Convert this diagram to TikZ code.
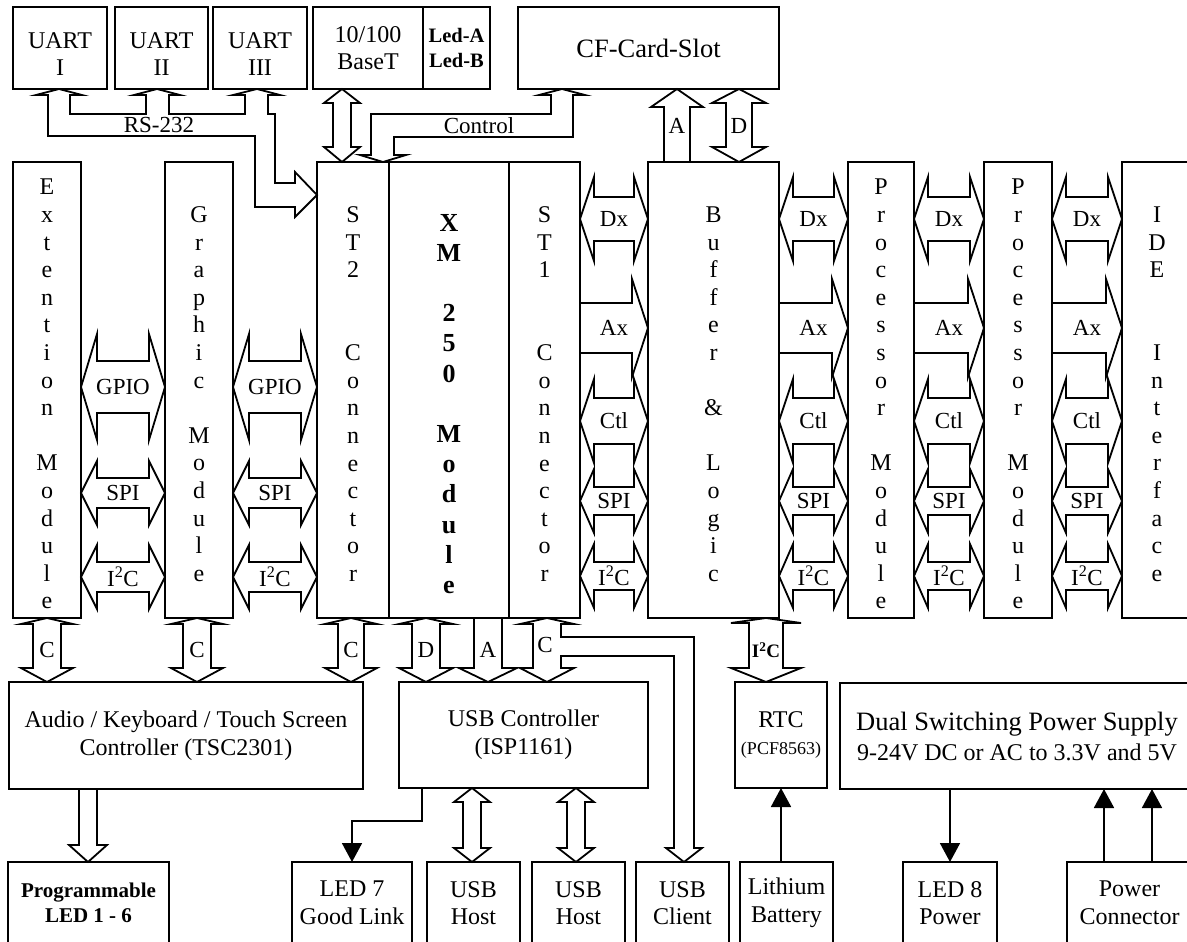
\documentclass[tikz,border=0pt]{standalone}
\usepackage{fontspec}
\setmainfont{Liberation Serif}
\usetikzlibrary{arrows.meta,calc}

%% invisible strut that pushes a node's text down a little
\newcommand{\tstrut}[1]{\rule{0pt}{#1}}

%% block arrows, drawn between named nodes (pixel units, y downwards)
% horizontal double arrow: left node, right node, y, shaft half, head half, head length, label
\newcommand{\hdbl}[7]{%
  \path (#1.east |- 0,#3) coordinate (hl) (#2.west |- 0,#3) coordinate (hr);
  \draw[blk] (hl) -- ++(#6,-#5) -- ++(0,#5-#4) -- ($(hr)+(-#6,-#4)$) -- ++(0,#4-#5) -- (hr)
    -- ++(-#6,#5) -- ++(0,#4-#5) -- ($(hl)+(#6,#4)$) -- ++(0,#5-#4) -- cycle;
  \node[lbl] (lab) at ($(hl)!.5!(hr)$) {#7};}
% horizontal single arrow pointing right
\newcommand{\hright}[7]{%
  \path (#1.east |- 0,#3) coordinate (st) (#2.west |- 0,#3) coordinate (sb);
  \draw[blk] ($(st)+(0,-#4)$) -- ($(sb)+(-#6,-#4)$) -- ++(0,#4-#5) -- (sb) -- ++(-#6,#5) -- ++(0,#4-#5) -- ($(st)+(0,#4)$);
  \node[lbl] (lab) at ($(st)!.5!(sb)$) {#7};}
% vertical double arrow: upper node, lower node, x, shaft half, head half, top head, bottom head, label
\newcommand{\vdbl}[8]{%
  \path (#1.south -| #3,0) coordinate (vt) (#2.north -| #3,0) coordinate (vb);
  \draw[blk] (vt) -- ++(#5,#6) -- ++(#4-#5,0) -- ($(vb)+(#4,-#7)$) -- ++(#5-#4,0) -- (vb)
    -- ++(-#5,-#7) -- ++(#5-#4,0) -- ($(vt)+(-#4,#6)$) -- ++(#4-#5,0) -- cycle;
  \if\relax\detokenize{#8}\relax\else\node[lbl] (lab) at ($(vt)!.5!(vb)$) {#8};\fi}
% vertical single arrows (tail node, tip node, x, shaft half, head half, head length, label)
\newcommand{\sglup}[7]{%
  \path (#1.north -| #3,0) coordinate (st) (#2.south -| #3,0) coordinate (sb);
  \draw[blk] ($(st)+(-#4,0)$) -- ($(sb)+(-#4,#6)$) -- ++(#4-#5,0) -- (sb) -- ++(#5,#6) -- ++(#4-#5,0) -- ($(st)+(#4,0)$);
  \if\relax\detokenize{#7}\relax\else\node[lbl] (lab) at ($(st)!.5!(sb)$) {#7};\fi}
\newcommand{\sgldown}[7]{%
  \path (#1.south -| #3,0) coordinate (st) (#2.north -| #3,0) coordinate (sb);
  \draw[blk] ($(st)+(-#4,0)$) -- ($(sb)+(-#4,-#6)$) -- ++(#4-#5,0) -- (sb) -- ++(#5,-#6) -- ++(#4-#5,0) -- ($(st)+(#4,0)$);
  \if\relax\detokenize{#7}\relax\else\node[lbl] (lab) at ($(st)!.5!(sb)$) {#7};\fi}

\begin{document}
\begin{tikzpicture}[
    x=1pt, y=-1pt,
    >={Triangle[length=19pt,width=20pt]},
    font=\fontsize{24}{27.6}\selectfont,
    box/.style={draw, line width=1.8pt, inner sep=0pt, outer sep=0pt, align=center},
    vbox/.style={box, minimum height=456pt},
    blk/.style={draw, line width=1.8pt, line join=miter},
    con/.style={draw, line width=1.8pt},
    lbl/.style={inner sep=0pt, font=\fontsize{23}{26}\selectfont},
  ]
  \useasboundingbox (0,0) rectangle (1187,942);
  \clip (0,0) rectangle (1187,942);

  %% ===== TOP ROW =====
  \node[box, minimum width=94pt, minimum height=82pt] (uart1) at (60,48) {\tstrut{28pt}UART\\I};
  \node[box, minimum width=93pt, minimum height=82pt] (uart2) at (161.5,48) {\tstrut{28pt}UART\\II};
  \node[box, minimum width=94pt, minimum height=82pt] (uart3) at (260,48) {\tstrut{28pt}UART\\III};
  \node[box, minimum width=110pt, minimum height=82pt] (eth) at (368,48) {10/100\\BaseT};
  \node[box, minimum width=67pt, minimum height=82pt, font=\fontsize{20.5}{25}\selectfont\bfseries] (led) at (456.5,48) {Led-A\\Led-B};
  \node[box, minimum width=261pt, minimum height=82pt, font=\fontsize{26.5}{30}\selectfont] (cf) at (648.5,48) {CF-Card-Slot};

  %% ===== MIDDLE ROW (modules and connectors) =====
  \node[vbox, minimum width=68pt] (ext) at (47,390)
    {\tstrut{24pt}E\\x\\t\\e\\n\\t\\i\\o\\n\\[27.6pt]M\\o\\d\\u\\l\\e};
  \node[vbox, minimum width=68pt] (gra) at (199,390)
    {\tstrut{24pt}G\\r\\a\\p\\h\\i\\c\\[27.6pt]M\\o\\d\\u\\l\\e};
  \node[vbox, minimum width=72pt] (st2) at (353,390)
    {\tstrut{24pt}S\\T\\2\\[55.2pt]C\\o\\n\\n\\e\\c\\t\\o\\r};
  \node[vbox, minimum width=120pt, font=\fontsize{26}{30.2}\selectfont\bfseries] (xm) at (449,390)
    {\tstrut{45pt}X\\M\\[30.2pt]2\\5\\0\\[30.2pt]M\\o\\d\\u\\l\\e};
  \node[vbox, minimum width=71pt] (st1) at (544.5,390)
    {\tstrut{24pt}S\\T\\1\\[55.2pt]C\\o\\n\\n\\e\\c\\t\\o\\r};
  \node[vbox, minimum width=131pt] (buf) at (713.5,390)
    {\tstrut{24pt}B\\u\\f\\f\\e\\r\\[27.6pt]\&\\[27.6pt]L\\o\\g\\i\\c};
  \node[vbox, minimum width=66pt] (proc1) at (881,390)
    {\tstrut{24pt}P\\r\\o\\c\\e\\s\\s\\o\\r\\[27.6pt]M\\o\\d\\u\\l\\e};
  \node[vbox, minimum width=68pt] (proc2) at (1018,390)
    {\tstrut{24pt}P\\r\\o\\c\\e\\s\\s\\o\\r\\[27.6pt]M\\o\\d\\u\\l\\e};
  \node[vbox, minimum width=70pt] (ide) at (1157,390)
    {\tstrut{24pt}I\\D\\E\\[55.2pt]I\\n\\t\\e\\r\\f\\a\\c\\e};

  %% ===== CONTROLLER ROW =====
  \node[box, minimum width=354pt, minimum height=107pt] (audio) at (186,735.5)
    {Audio / Keyboard / Touch Screen\\Controller (TSC2301)};
  \node[box, minimum width=249pt, minimum height=106pt] (usb) at (523.5,735) {USB Controller\\(ISP1161)};
  \node[box, minimum width=92pt, minimum height=106pt] (rtc) at (781,735)
    {RTC\\{\fontsize{18}{21}\selectfont(PCF8563)}};
  \node[box, minimum width=354pt, minimum height=106pt, font=\fontsize{26.5}{30}\selectfont] (ps) at (1017,736)
    {Dual Switching Power Supply\\{\fontsize{24}{27.6}\selectfont 9-24V DC or AC to 3.3V and 5V}};

  %% ===== BOTTOM ROW =====
  \node[box, minimum width=161pt, minimum height=82pt, font=\fontsize{21}{25}\selectfont\bfseries] (prog) at (88.5,903)
    {Programmable\\LED 1 - 6};
  \node[box, minimum width=120pt, minimum height=82pt] (led7) at (352,903) {LED 7\\Good Link};
  \node[box, minimum width=93pt, minimum height=82pt] (host1) at (473.5,903) {USB\\Host};
  \node[box, minimum width=93pt, minimum height=82pt] (host2) at (578.5,903) {USB\\Host};
  \node[box, minimum width=93pt, minimum height=82pt] (client) at (682.5,903) {USB\\Client};
  \node[box, minimum width=93pt, minimum height=82pt] (lith) at (786.5,903) {Lithium\\Battery};
  \node[box, minimum width=94pt, minimum height=82pt] (led8) at (950,903) {LED 8\\Power};
  \node[box, minimum width=125pt, minimum height=82pt] (pwr) at (1129.5,903) {Power\\Connector};

  %% ===== TOP BUSES =====
  %% RS-232: ST2 -> UART I / II / III
  \draw[blk] (uart1.south -| 59,0) -- ++(23,6) -- ++(-12,0) -- (70,114) -- (146,114) -- ++(0,-19) -- ++(-12,0)
    -- (uart2.south -| 157,0) -- ++(23,6) -- ++(-11,0) -- (169,114) -- (245,114) -- ++(0,-19) -- ++(-12,0)
    -- (uart3.south -| 257,0) -- ++(23,6) -- ++(-12,0) -- (268,114) -- (275,114) -- (275,183) -- (295,183)
    -- ++(0,-11) -- (st2.west |- 0,195) -- (295,217) -- ++(0,-10) -- (255,207) -- (255,136) -- (48,136)
    -- (48,95) -- (36,95) -- cycle;
  \node[lbl] (rs) at (159,125) {RS-232};

  %% Control: CF slot <-> ST2
  \draw[blk] (cf.south -| 562,0) -- ++(23,6) -- ++(-12,0) -- (573,137) -- (394,137) -- (394,155) -- ++(12,0)
    -- (st2.north -| 383,0) -- ++(-23,-7) -- ++(11,0) -- (371,114) -- (551,114) -- (551,95) -- (539,95) -- cycle;
  \node[lbl] (ctrl) at (479,126) {Control};

  \vdbl{eth}{st2}{342}{9}{18}{14}{15}{}
  \sglup{buf}{cf}{677}{13}{26}{18}{A}
  \vdbl{cf}{buf}{739}{13}{27}{14}{15}{D}

  %% ===== SIDE BUSES =====
  \foreach \lft/\rgt in {ext/gra, gra/st2}{
    \hdbl{\lft}{\rgt}{387}{26}{53}{16}{GPIO}
    \hdbl{\lft}{\rgt}{493}{15}{32}{16}{SPI}
    \hdbl{\lft}{\rgt}{577}{15}{32}{16}{I\textsuperscript{2}C}
  }
  \foreach \lft/\rgt in {st1/buf, buf/proc1, proc1/proc2, proc2/ide}{
    \hdbl{\lft}{\rgt}{219}{22}{42}{14}{Dx}
    \hright{\lft}{\rgt}{328}{25}{49}{16}{Ax}
    \hdbl{\lft}{\rgt}{421}{23}{42}{14}{Ctl}
    \hdbl{\lft}{\rgt}{501}{14}{32}{14}{SPI}
    \hdbl{\lft}{\rgt}{576}{14}{32}{14}{I\textsuperscript{2}C}
  }

  %% ===== LOWER BUSES =====
  \vdbl{ext}{audio}{47}{14}{26}{6}{14}{C}
  \vdbl{gra}{audio}{197}{14}{26}{6}{14}{C}
  \vdbl{st2}{audio}{351}{13}{26}{6}{14}{C}
  \vdbl{xm}{usb}{426}{14}{27}{6}{14}{D}
  \sgldown{xm}{usb}{488}{14}{29}{14}{A}

  %% ST1 C bus, branching off to the USB client
  \path (st1.south -| 547,0) coordinate (ct) (usb.north -| 547,0) coordinate (cb) (client.north -| 684,0) coordinate (cc);
  \draw[blk] (ct) -- ++(27,6) -- ++(-13,0) -- ++(0,13) -| ($(cc)+(10,-14)$) -- ++(8,0) -- (cc) -- ++(-18,-14)
    -- ++(8,0) |- ($(ct)+(14,38)$) -- ($(cb)+(14,-14)$) -- ++(13,0) -- (cb) -- ++(-27,-14) -- ++(13,0)
    -- ($(ct)+(-14,6)$) -- ++(-13,0) -- cycle;
  \node[lbl] (cst1) at (545,645) {C};

  \vdbl{buf}{rtc}{766}{17}{35}{5}{14}{\fontsize{19}{22}\selectfont\bfseries I\textsuperscript{2}C}
  \sgldown{audio}{prog}{88}{9}{19}{17}{}
  \vdbl{usb}{host1}{472}{9}{18}{14}{14}{}
  \vdbl{usb}{host2}{576}{9}{18}{14}{14}{}

  %% ===== SIGNAL LINES =====
  \draw[con,->] (usb.south -| 422,0) -- ++(0,33) -| (led7.north);
  \draw[con,->] (lith.north -| rtc.south) -- (rtc.south);
  \draw[con,->] (ps.south -| led8.north) -- (led8.north);
  \draw[con,->] (pwr.north -| 1104,0) -- (ps.south -| 1104,0);
  \draw[con,->] (pwr.north -| 1152,0) -- (ps.south -| 1152,0);

\end{tikzpicture}
\end{document}
